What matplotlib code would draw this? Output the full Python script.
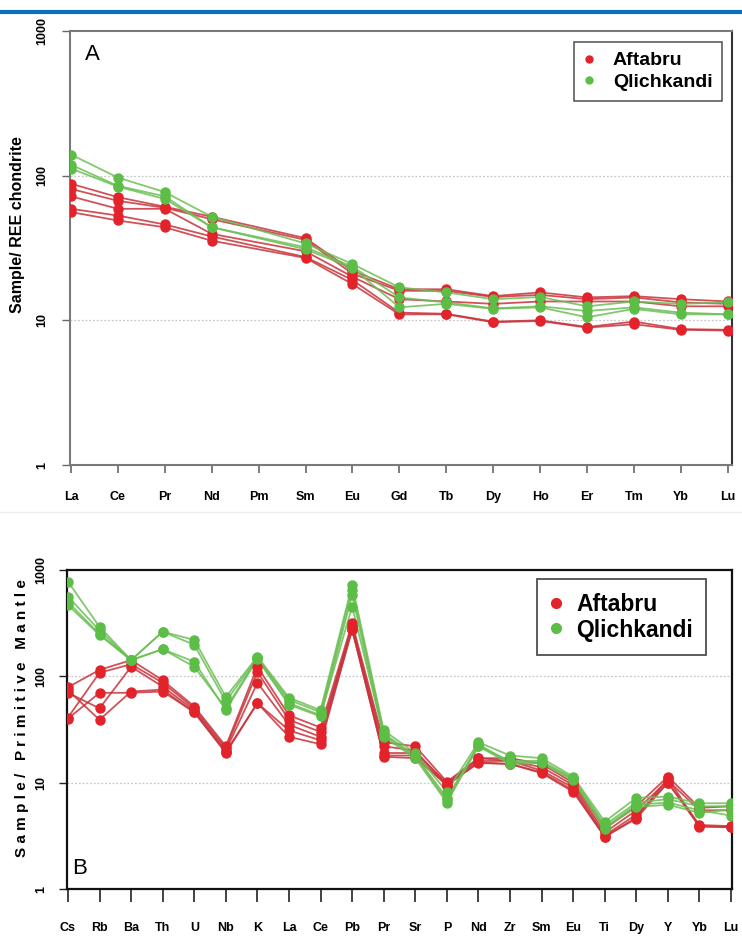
import numpy as np
import matplotlib
matplotlib.use("Agg")
import matplotlib.pyplot as plt
from matplotlib.lines import Line2D

plt.rcParams['font.family'] = ['Liberation Sans', 'DejaVu Sans']

# ---------------- Panel A data (chondrite-normalised REE) ----------------
ree = ["La", "Ce", "Pr", "Nd", "Pm", "Sm", "Eu", "Gd", "Tb", "Dy", "Ho", "Er", "Tm", "Yb", "Lu"]
nan = np.nan
aftabru_ree = [
    [88, 71, 61, 52, nan, 37, 22, 16.4, 16.4, 14.7, 15.6, 14.4, 14.7, 14.0, 13.5],
    [81, 67, 60, 50, nan, 36, 21, 16.0, 16.0, 14.5, 15.0, 14.0, 14.4, 13.3, 13.0],
    [72, 59, 59, 39.6, nan, 30, 20, 14.0, 13.5, 13.0, 13.5, 13.5, 13.5, 12.5, 12.5],
    [59, 53, 46, 38, nan, 27.4, 19, 11.3, 11.1, 9.8, 10.0, 9.0, 9.8, 8.7, 8.6],
    [56, 49, 44, 35.5, nan, 27, 17.8, 11.0, 11.0, 9.7, 9.9, 8.9, 9.4, 8.6, 8.5],
]
qlich_ree = [
    [140, 97, 77, 52, nan, 34, 24.5, 16.9, 15.6, 14.0, 14.5, 12.5, 13.5, 13.0, 13.3],
    [119, 85, 72, 44, nan, 32, 23.5, 14.4, 13.3, 12.1, 12.5, 11.6, 12.3, 11.3, 11.0],
    [112, 84, 69, 44, nan, 31, 23.0, 12.3, 13.0, 12.0, 12.3, 10.5, 12.0, 11.0, 11.0],
]

# ---------------- Panel B data (primitive-mantle normalised) ----------------
spider = ["Cs", "Rb", "Ba", "Th", "U", "Nb", "K", "La", "Ce", "Pb", "Pr", "Sr", "P",
          "Nd", "Zr", "Sm", "Eu", "Ti", "Dy", "Y", "Yb", "Lu"]
aftabru_pm = [
    [79, 115, 142, 92, 52, 22, 123, 43, 33, 317, 24, 22, 10.2, 17, 17, 15, 10.0, 3.7, 6.0, 11.4, 5.8, 6.0],
    [41, 108, 130, 87, 50, 21, 110, 39, 30, 290, 22, 20, 9.5, 17, 16, 14, 9.5, 3.4, 5.5, 10.5, 5.5, 5.5],
    [70, 50, 123, 80, 48, 20, 87, 35, 27, 300, 19, 19, 10.0, 16, 16, 13, 9.0, 3.2, 5.0, 10.0, 4.0, 3.9],
    [74, 39, 72, 75, 46, 19, 56, 31, 25, 273, 18, 18, 9.4, 15.5, 15, 12.3, 8.2, 3.1, 4.6, 10.0, 3.85, 3.85],
    [40, 70, 70, 72, 46, 19.5, 56, 27, 23, 280, 17.5, 17, 9.6, 15.3, 15, 12.5, 8.5, 3.1, 4.7, 11.0, 3.9, 3.8],
]
qlich_pm = [
    [777, 292, 142, 263, 220, 64, 153, 63, 48, 724, 31, 19, 8.2, 24, 18, 17, 11.4, 4.3, 7.2, 7.4, 6.4, 6.4],
    [562, 270, 142, 263, 198, 58, 150, 60, 46, 650, 29, 18, 7.2, 22, 16, 16, 11.0, 4.0, 6.5, 7.0, 6.0, 6.0],
    [468, 245, 142, 180, 137, 48, 145, 54, 42, 585, 27, 17, 6.5, 22, 15, 15.3, 10.5, 3.7, 5.9, 6.2, 5.2, 5.6],
    [500, 250, 142, 180, 123, 50, 148, 56, 43, 453, 28, 17.5, 6.8, 23, 15.5, 15.5, 10.8, 3.8, 6.2, 6.5, 5.5, 4.9],
]
legend_labels = ["Aftabru", "Qlichkandi"]

RED_M = "#e3232b"
RED_L = "#c8343b"
GRN_M = "#5cbd47"
GRN_L = "#6cbf55"

W, H = 742, 938
fig = plt.figure(figsize=(W / 100, H / 100), dpi=100)
fig.patch.set_facecolor("white")

def ax_rect(l, t, r, b):
    return [l / W, 1 - b / H, (r - l) / W, (b - t) / H]

# top blue rule
fig.add_artist(Line2D([0, 1], [1 - 12 / H, 1 - 12 / H], color="#0b6fc1", lw=3,
                      transform=fig.transFigure))
# faint separator
fig.add_artist(Line2D([0, 1], [1 - 512 / H, 1 - 512 / H], color="#eeeeee", lw=1,
                      transform=fig.transFigure))

def draw_series(ax, x, rows, lc, mc, ms):
    for row in rows:
        y = np.array(row, dtype=float)
        m = ~np.isnan(y)
        ax.plot(x[m], y[m], color=lc, lw=1.3, alpha=0.85, zorder=3)
        ax.plot(x[m], y[m], ls="none", marker="o", ms=ms, color=mc, mec=mc, zorder=4)

# ================= Panel A =================
axA = fig.add_axes(ax_rect(70, 31, 732, 465))
xA = np.arange(len(ree))
draw_series(axA, xA, aftabru_ree, RED_L, RED_M, 6.5)
draw_series(axA, xA, qlich_ree, GRN_L, GRN_M, 6.5)
axA.set_yscale("log")
axA.set_ylim(1, 1000)
axA.set_xlim(-0.02, 14.09)
for v in (10, 100):
    axA.axhline(v, color="#c8c8c8", lw=0.9, ls=(0, (1.5, 1.5)), zorder=1)
axA.set_xticks(xA)
axA.set_xticklabels(ree, fontsize=9, fontweight="bold")
axA.set_yticks([1, 10, 100, 1000])
axA.set_yticklabels(["1", "10", "100", "1000"], fontsize=9, fontweight="bold",
                    rotation=90, va="center")
axA.yaxis.set_minor_locator(matplotlib.ticker.NullLocator())
axA.tick_params(axis="x", length=6, width=1.2, color="#666666", pad=13)
axA.tick_params(axis="y", length=6, width=1.0, color="#666666", pad=10)
for s in ("left", "bottom", "top"):
    axA.spines[s].set_color("#7a7a7a")
    axA.spines[s].set_linewidth(1.5)
axA.spines["right"].set_color("#333333")
axA.spines["right"].set_linewidth(1.5)
axA.text(22 / 662, 1 - (55 - 31) / 434, "A", transform=axA.transAxes, fontsize=16,
         ha="center", va="center")
fig.text(18 / W, 1 - 225 / H, "Sample/ REE chondrite", rotation=90, fontsize=11.5,
         fontweight="bold", ha="center", va="center")
hA = [Line2D([], [], ls="none", marker="o", ms=5, color=RED_M),
      Line2D([], [], ls="none", marker="o", ms=5, color=GRN_M)]
legA = axA.legend(hA, legend_labels, loc="upper left",
                  bbox_to_anchor=((574 - 70) / 662, 1 - (42 - 31) / 434),
                  prop={"weight": "bold", "size": 14},
                  frameon=True, fancybox=False,
                  handletextpad=1.0, handlelength=0.5, borderpad=0.5, labelspacing=0.2,
                  borderaxespad=0)
legA.get_frame().set_edgecolor("#333333")
legA.get_frame().set_linewidth(1.2)

# ================= Panel B =================
axB = fig.add_axes(ax_rect(67, 570, 732, 889))
xB = np.arange(len(spider))
draw_series(axB, xB, aftabru_pm, RED_L, RED_M, 6.5)
draw_series(axB, xB, qlich_pm, GRN_L, GRN_M, 6.5)
axB.set_yscale("log")
axB.set_ylim(1, 1000)
axB.set_xlim(-0.03, 21.03)
for v in (10, 100):
    axB.axhline(v, color="#c8c8c8", lw=0.9, ls=(0, (1.5, 1.5)), zorder=1)
axB.set_xticks(xB)
axB.set_xticklabels(spider, fontsize=9, fontweight="bold")
axB.set_yticks([1, 10, 100, 1000])
axB.set_yticklabels(["1", "10", "100", "1000"], fontsize=9, fontweight="bold",
                    rotation=90, va="center")
axB.yaxis.set_minor_locator(matplotlib.ticker.NullLocator())
axB.tick_params(axis="x", length=9, width=1.2, color="#222222", pad=15)
axB.tick_params(axis="y", length=6, width=1.0, color="#222222", pad=8)
for s in axB.spines.values():
    s.set_color("#111111")
    s.set_linewidth(1.6)
axB.text(13 / 665, 1 - (868 - 570) / 319, "B", transform=axB.transAxes, fontsize=16,
         ha="center", va="center")
fig.text(22 / W, 1 - 718 / H, "S a m p l e /   P r i m i t i v e   M a n t l e",
         rotation=90, fontsize=11, fontweight="bold", ha="center", va="center")
hB = [Line2D([], [], ls="none", marker="o", ms=7, color=RED_M),
      Line2D([], [], ls="none", marker="o", ms=7, color=GRN_M)]
legB = axB.legend(hB, legend_labels, loc="upper left",
                  bbox_to_anchor=((537 - 67) / 665, 1 - (579 - 570) / 319),
                  prop={"weight": "bold", "size": 16.5}, frameon=True, fancybox=False,
                  handletextpad=0.6, handlelength=0.5, borderpad=0.6, labelspacing=0.12,
                  borderaxespad=0)
legB.get_frame().set_edgecolor("#222222")
legB.get_frame().set_linewidth(1.3)

fig.savefig("out.png", dpi=100, facecolor="white")
